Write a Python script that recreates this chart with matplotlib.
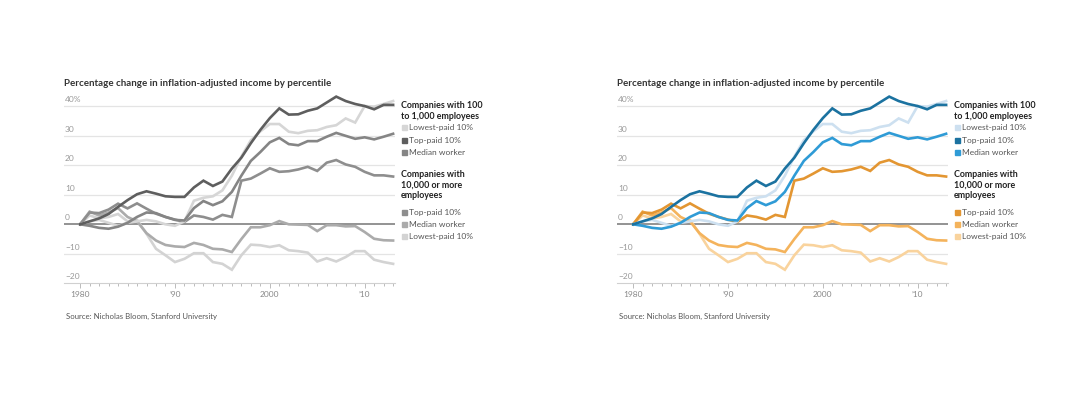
import matplotlib
matplotlib.use("Agg")
import matplotlib.pyplot as plt
import numpy as np

years = list(range(1980, 2014))

small_lowest = [0, 1, 1.5, 0.5, -0.5, 0.5, 1, 1.5, 1, 0, -0.5, 1, 8, 9, 9.5, 11.5, 16.5, 23, 28.5, 31.5,
                34, 34, 31.4, 30.9, 31.7, 31.9, 33, 33.6, 35.9, 34.5, 40.1, 39.9, 40.8, 41.8]
small_top = [0, 1, 2, 3.5, 5.9, 8.2, 10.2, 11.2, 10.4, 9.5, 9.3, 9.3, 12.5, 14.8, 13, 14.5, 18.9, 22.6, 27.5, 32,
             36, 39.3, 37.2, 37.3, 38.5, 39.3, 41.3, 43.3, 41.8, 40.8, 40.1, 39, 40.5, 40.5]
small_median = [0, -0.5, -1.2, -1.5, -0.8, 0.5, 2.5, 4, 3.8, 2.5, 1.5, 1.3, 5.5, 7.9, 6.5, 7.8, 11, 16.5, 21.5, 24.5,
                27.8, 29.3, 27.2, 26.8, 28.2, 28.2, 29.7, 31, 30, 29, 29.5, 28.8, 29.7, 30.7]
large_top = [0, 4, 3.8, 5, 7, 5.4, 7.1, 5.3, 3.6, 2.5, 1.6, 0.8, 3, 2.5, 1.6, 3.2, 2.5, 14.8, 15.5, 17.2,
             19, 17.8, 18, 18.6, 19.5, 18.1, 20.9, 21.8, 20.3, 19.5, 17.8, 16.6, 16.6, 16.2]
large_median = [0, 4.3, 3, 4, 5.5, 2.5, 1, -3, -5.5, -7, -7.5, -7.7, -6.3, -7, -8.3, -8.5, -9.4, -5, -1, -1,
                -0.3, 1.1, 0, -0.1, -0.2, -2.3, -0.3, -0.3, -0.7, -0.6, -2.6, -4.9, -5.4, -5.5]
large_lowest = [0, 3, 2, 2.5, 3.5, 1, 1.5, -3.2, -8.3, -10.5, -12.8, -11.7, -9.8, -9.8, -12.8, -13.4, -15.4, -10.5, -6.9, -7.1,
                -7.7, -7.1, -8.8, -9.1, -9.6, -12.6, -11.5, -12.6, -11.1, -9.1, -9.1, -12, -12.8, -13.4]

ytick_vals = [-20, -10, 0, 10, 20, 30, 40]
ytick_labels = ["\u221220", "\u221210", "0", "10", "20", "30", "40%"]
xtick_vals = [1980, 1990, 2000, 2010]
xtick_labels = ["1980", "\u201990", "2000", "\u201910"]

title = "Percentage change in inflation-adjusted income by percentile"
source = "Source: Nicholas Bloom, Stanford University"
group1 = "Companies with 100\nto 1,000 employees"
group2 = "Companies with\n10,000 or more\nemployees"
g1_items = ["Lowest-paid 10%", "Top-paid 10%", "Median worker"]
g2_items = ["Top-paid 10%", "Median worker", "Lowest-paid 10%"]

plt.rcParams['font.family'] = ['Lato', 'DejaVu Sans']

W, H = 1080, 398
fig = plt.figure(figsize=(W / 100, H / 100), dpi=100)

gray_colors = {
    "small_lowest": "#d6d6d6", "small_top": "#5e5e5e", "small_median": "#858585",
    "large_top": "#8e8e8e", "large_median": "#ababab", "large_lowest": "#d3d3d3",
}
color_colors = {
    "small_lowest": "#cde0f0", "small_top": "#1b72a0", "small_median": "#2f9bd6",
    "large_top": "#e39632", "large_median": "#f4b35c", "large_lowest": "#f9d39d",
}

series = {
    "small_lowest": small_lowest, "small_top": small_top, "small_median": small_median,
    "large_top": large_top, "large_median": large_median, "large_lowest": large_lowest,
}
draw_order = ["large_lowest", "large_median", "large_top", "small_lowest", "small_median", "small_top"]


def px(x):
    return x / W


def py(y):
    return 1 - y / H


def panel(x0, colors):
    # axes spans from x0 (left) to x0+331 px; y from 91.6 to 283.3 px
    ax = fig.add_axes([px(x0), py(283.3), px(331), py(91.6) - py(283.3)])
    ax.set_xlim(1978.3, 2013.2)
    ax.set_ylim(-20, 45)
    for v in ytick_vals:
        if v == 0:
            continue
        if v == -20:
            continue
        ax.axhline(v, color="#e4e4e4", lw=0.9, zorder=0)
    for k in draw_order:
        ax.plot(years, series[k], color=colors[k], lw=1.9, solid_joinstyle="miter", zorder=2)
    ax.axhline(0, color="#8a8a8a", lw=1.3, zorder=1.5)
    for s in ["top", "right", "left"]:
        ax.spines[s].set_visible(False)
    ax.spines["bottom"].set_color("#d0d0d0")
    ax.spines["bottom"].set_linewidth(0.8)
    ax.set_yticks([])
    ax.set_xticks(xtick_vals)
    ax.set_xticklabels(xtick_labels, fontsize=6, color="#888888")
    ax.set_xticks(years, minor=True)
    ax.tick_params(axis="x", which="both", direction="out", length=2.5, width=0.7, color="#bbbbbb", pad=2)
    ax.tick_params(axis="x", which="major", length=3.5)
    for v, lab in zip(ytick_vals, ytick_labels):
        ax.text(1978.4, v + 1.0, lab, fontsize=6, color="#999999", ha="left", va="bottom")
    fig.text(px(x0), py(84), title, fontsize=7, fontweight="bold", color="#333333", ha="left", va="center")
    fig.text(px(x0 + 2), py(316), source, fontsize=5.6, color="#555555", ha="left", va="center")

    lx = x0 + 337
    fig.text(px(lx), py(101), group1, fontsize=6.4, fontweight="bold", color="#222222",
             ha="left", va="top", linespacing=1.25)
    ys1 = [127.7, 140.5, 152.3]
    for yy, lab, key in zip(ys1, g1_items, ["small_lowest", "small_top", "small_median"]):
        fig.patches.append(plt.Rectangle((px(lx + 1), py(yy + 2.6)), px(4.6), py(yy - 2.6) - py(yy + 2.6),
                                         transform=fig.transFigure, color=colors[key], figure=fig))
        fig.text(px(lx + 8), py(yy), lab, fontsize=6, color="#555555", ha="left", va="center")
    fig.text(px(lx), py(170), group2, fontsize=6.4, fontweight="bold", color="#222222",
             ha="left", va="top", linespacing=1.25)
    ys2 = [212.3, 224.3, 236.7]
    for yy, lab, key in zip(ys2, g2_items, ["large_top", "large_median", "large_lowest"]):
        fig.patches.append(plt.Rectangle((px(lx + 1), py(yy + 2.6)), px(4.6), py(yy - 2.6) - py(yy + 2.6),
                                         transform=fig.transFigure, color=colors[key], figure=fig))
        fig.text(px(lx + 8), py(yy), lab, fontsize=6, color="#555555", ha="left", va="center")


panel(64, gray_colors)
panel(617, color_colors)

fig.savefig("out.png", dpi=100, facecolor="white")
